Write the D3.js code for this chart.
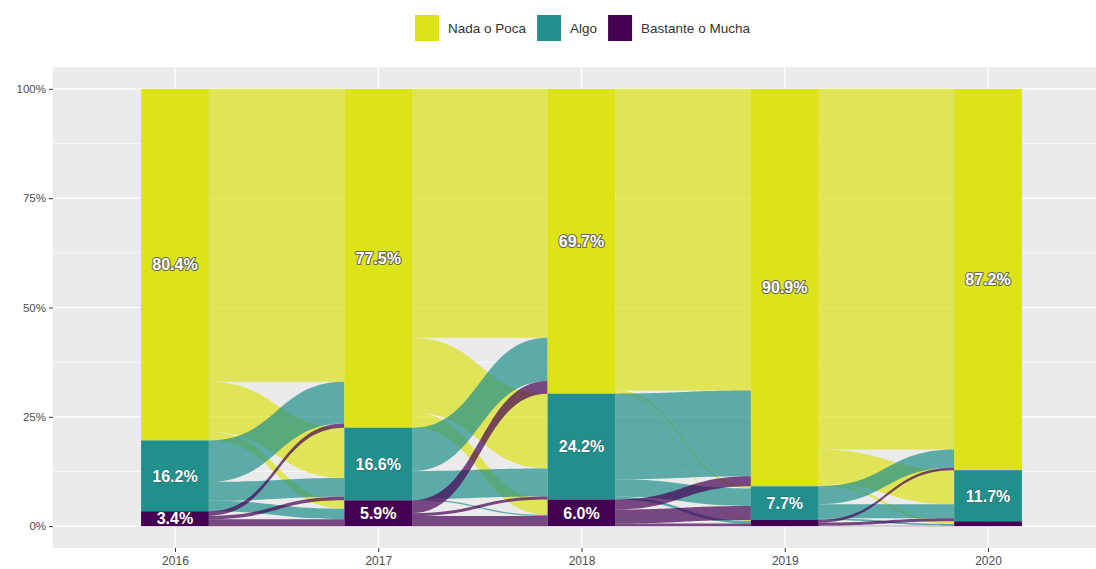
<!DOCTYPE html>
<html>
<head>
<meta charset="utf-8">
<script src="https://cdn.jsdelivr.net/npm/d3@7"></script>
<style>
  html, body { margin: 0; padding: 0; background: #ffffff; }
  svg { display: block; font-family: "Liberation Sans", Arial, sans-serif; }
</style>
</head>
<body>
<svg id="chart" width="1096" height="569"></svg>
<script>
// ---------- DATA ----------
const years = ["2016", "2017", "2018", "2019", "2020"];
const categories = ["Nada o Poca", "Algo", "Bastante o Mucha"];
const colors = ["#DCE319", "#21908C", "#440154"];

// share (%) of each category per year (top to bottom: Nada, Algo, Bastante)
const nadaPct = [80.4, 77.5, 69.7, 90.9, 87.2];
const algoPct = [16.2, 16.6, 24.2, 7.7, 11.7];
const bastPct = [3.4, 5.9, 6.1, 1.4, 1.1];

// bar labels (empty = not shown)
const nadaLabels = ["80.4%", "77.5%", "69.7%", "90.9%", "87.2%"];
const algoLabels = ["16.2%", "16.6%", "24.2%", "7.7%", "11.7%"];
const bastLabels = ["3.4%", "5.9%", "6.0%", "", ""];

// flows between consecutive years: rows = origin category, cols = destination category (%)
const flows2016to2017 = [[67.0, 11.5, 1.9], [9.5, 4.3, 2.4], [1.0, 0.8, 1.6]];
const flows2017to2018 = [[56.9, 17.1, 3.5], [9.9, 6.4, 0.3], [2.9, 0.7, 2.3]];
const flows2018to2019 = [[69.0, 0.5, 0.2], [19.6, 4.0, 0.6], [2.3, 3.2, 0.6]];
const flows2019to2020 = [[82.5, 7.8, 0.6], [4.1, 3.2, 0.4], [0.6, 0.7, 0.1]];

const yTicks = [0, 25, 50, 75, 100];
const yMinor = [12.5, 37.5, 62.5, 87.5];

// ---------- LAYOUT ----------
const svg = d3.select("#chart");
const panel = { left: 53, right: 1110, top: 67, bottom: 548 };

const x = d3.scalePoint().domain(years).range([panel.left, panel.right]).padding(0.6);
const y = d3.scaleLinear().domain([-5, 105]).range([panel.bottom, panel.top]);
const barW = x.step() / 3;

const margins = years.map((yr, i) => [nadaPct[i], algoPct[i], bastPct[i]]);
const labels = years.map((yr, i) => [nadaLabels[i], algoLabels[i], bastLabels[i]]);
const transitions = [flows2016to2017, flows2017to2018, flows2018to2019, flows2019to2020];

// panel background
svg.append("rect")
  .attr("x", panel.left).attr("y", panel.top)
  .attr("width", panel.right - panel.left).attr("height", panel.bottom - panel.top)
  .attr("fill", "#EBEBEB");

// grid
const g = svg.append("g");
g.selectAll(".minor").data(yMinor).enter().append("line")
  .attr("x1", panel.left).attr("x2", panel.right)
  .attr("y1", d => y(d)).attr("y2", d => y(d))
  .attr("stroke", "#ffffff").attr("stroke-width", 0.6);
g.selectAll(".major").data(yTicks).enter().append("line")
  .attr("x1", panel.left).attr("x2", panel.right)
  .attr("y1", d => y(d)).attr("y2", d => y(d))
  .attr("stroke", "#ffffff").attr("stroke-width", 1.2);
g.selectAll(".vmajor").data(years).enter().append("line")
  .attr("x1", d => x(d)).attr("x2", d => x(d))
  .attr("y1", panel.top).attr("y2", panel.bottom)
  .attr("stroke", "#ffffff").attr("stroke-width", 1.2);

// flows
const flowG = svg.append("g");
transitions.forEach((tab, i) => {
  const x0 = x(years[i]) + barW / 2;
  const x1 = x(years[i + 1]) - barW / 2;
  const xm = (x0 + x1) / 2;
  const mL = margins[i], mR = margins[i + 1];
  // running tops at left (origin) and right (destination)
  const leftTop = mL.map((v, k) => 100 - d3.sum(mL.slice(0, k)));
  const rightTop = mR.map((v, k) => 100 - d3.sum(mR.slice(0, k)));
  const segs = [];
  for (let s = 0; s < 3; s++) {
    for (let d = 0; d < 3; d++) {
      const v = tab[s][d];
      segs.push({ s, d, v, la: leftTop[s], lb: leftTop[s] - v });
      leftTop[s] -= v;
    }
  }
  for (let d = 0; d < 3; d++) {
    for (let s = 0; s < 3; s++) {
      const seg = segs.find(e => e.s === s && e.d === d);
      seg.ra = rightTop[d]; seg.rb = rightTop[d] - seg.v;
      rightTop[d] -= seg.v;
    }
  }
  segs.forEach(e => {
    const p = d3.path();
    p.moveTo(x0, y(e.la));
    p.bezierCurveTo(xm, y(e.la), xm, y(e.ra), x1, y(e.ra));
    p.lineTo(x1, y(e.rb));
    p.bezierCurveTo(xm, y(e.rb), xm, y(e.lb), x0, y(e.lb));
    p.closePath();
    flowG.append("path")
      .attr("d", p.toString())
      .attr("fill", colors[e.s])
      .attr("fill-opacity", 0.7);
  });
});

// strata (bars)
const barG = svg.append("g");
years.forEach((yr, i) => {
  let top = 100;
  margins[i].forEach((v, k) => {
    barG.append("rect")
      .attr("x", x(yr) - barW / 2)
      .attr("y", y(top))
      .attr("width", barW)
      .attr("height", y(top - v) - y(top))
      .attr("fill", colors[k]);
    const lab = labels[i][k];
    if (lab) {
      barG.append("text")
        .attr("x", x(yr))
        .attr("y", y(top - v / 2))
        .attr("dy", "0.36em")
        .attr("text-anchor", "middle")
        .attr("font-size", 16)
        .attr("font-weight", "bold")
        .attr("fill", "#ffffff")
        .attr("stroke", k === 0 ? "#6b6b55" : "rgba(40,40,40,0.35)")
        .attr("stroke-width", k === 0 ? 2.2 : 1.2)
        .attr("paint-order", "stroke")
        .attr("stroke-linejoin", "round")
        .text(lab);
    }
    top -= v;
  });
});

// y axis
const yAxis = d3.axisLeft(y).tickValues(yTicks).tickFormat(d => d + "%").tickSize(4).tickPadding(3);
const ya = svg.append("g").attr("transform", `translate(${panel.left},0)`).call(yAxis);
ya.select(".domain").remove();
ya.selectAll(".tick line").attr("stroke", "#333333");
ya.selectAll(".tick text").attr("fill", "#4D4D4D").attr("font-size", 11.5)
  .attr("font-family", "Liberation Sans, Arial, sans-serif");

// x axis
const xAxis = d3.axisBottom(x).tickSize(4).tickPadding(4);
const xa = svg.append("g").attr("transform", `translate(0,${panel.bottom})`).call(xAxis);
xa.select(".domain").remove();
xa.selectAll(".tick line").attr("stroke", "#333333");
xa.selectAll(".tick text").attr("fill", "#4D4D4D").attr("font-size", 12)
  .attr("font-family", "Liberation Sans, Arial, sans-serif");

// legend
const leg = svg.append("g");
let lx = 415;
categories.forEach((c, k) => {
  leg.append("rect").attr("x", lx).attr("y", 15).attr("width", 24).attr("height", 26)
    .attr("fill", colors[k]);
  const t = leg.append("text").attr("x", lx + 33).attr("y", 28).attr("dy", "0.35em")
    .attr("font-size", 13.5).attr("fill", "#333333").text(c);
  const w = t.node().getComputedTextLength();
  lx = lx + 33 + w + 11;
});
</script>
</body>
</html>
